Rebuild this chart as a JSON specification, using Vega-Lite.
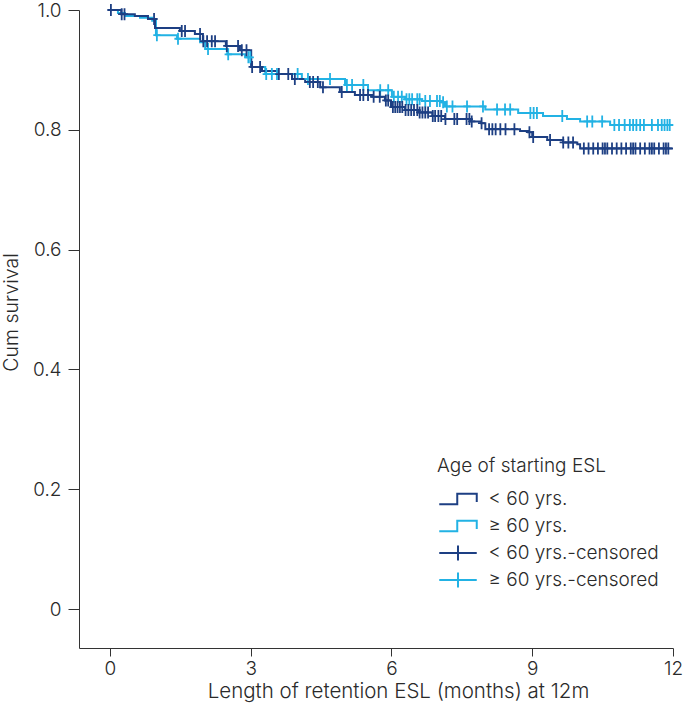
{
  "$schema": "https://vega.github.io/schema/vega-lite/v6.json",
  "width": 594,
  "height": 638,
  "autosize": "none",
  "padding": {"left": 79, "top": 10, "right": 12, "bottom": 58},
  "config": {
    "view": {"stroke": null},
    "font": "Inter",
    "axis": {
      "grid": false,
      "domainColor": "#333333",
      "tickColor": "#333333",
      "labelColor": "#2a2a2a",
      "titleColor": "#2a2a2a",
      "labelFont": "Inter",
      "titleFont": "Inter",
      "labelFontWeight": 300,
      "titleFontWeight": 300,
      "labelFontSize": 19,
      "titleFontSize": 20,
      "labelFlush": false
    },
    "legend": {
      "labelFont": "Inter",
      "titleFont": "Inter",
      "labelFontWeight": 300,
      "titleFontWeight": 300,
      "labelFontSize": 19,
      "titleFontSize": 19,
      "labelColor": "#2a2a2a",
      "titleColor": "#2a2a2a",
      "labelLimit": 0
    }
  },
  "datasets": {
    "curves": [
      {"grp": "≥ 60 yrs.", "t": 0, "s": 1.0},
      {"grp": "≥ 60 yrs.", "t": 0.17, "s": 0.995},
      {"grp": "≥ 60 yrs.", "t": 0.32, "s": 0.99},
      {"grp": "≥ 60 yrs.", "t": 0.64, "s": 0.987},
      {"grp": "≥ 60 yrs.", "t": 0.9, "s": 0.982},
      {"grp": "≥ 60 yrs.", "t": 0.98, "s": 0.958},
      {"grp": "≥ 60 yrs.", "t": 1.43, "s": 0.952},
      {"grp": "≥ 60 yrs.", "t": 1.92, "s": 0.946},
      {"grp": "≥ 60 yrs.", "t": 2.03, "s": 0.935},
      {"grp": "≥ 60 yrs.", "t": 2.5, "s": 0.926},
      {"grp": "≥ 60 yrs.", "t": 2.88, "s": 0.921},
      {"grp": "≥ 60 yrs.", "t": 3.01, "s": 0.905},
      {"grp": "≥ 60 yrs.", "t": 3.31, "s": 0.893},
      {"grp": "≥ 60 yrs.", "t": 4.09, "s": 0.885},
      {"grp": "≥ 60 yrs.", "t": 5.01, "s": 0.875},
      {"grp": "≥ 60 yrs.", "t": 5.5, "s": 0.866},
      {"grp": "≥ 60 yrs.", "t": 6.01, "s": 0.855},
      {"grp": "≥ 60 yrs.", "t": 6.29, "s": 0.851},
      {"grp": "≥ 60 yrs.", "t": 6.65, "s": 0.848},
      {"grp": "≥ 60 yrs.", "t": 7.08, "s": 0.846},
      {"grp": "≥ 60 yrs.", "t": 7.14, "s": 0.839},
      {"grp": "≥ 60 yrs.", "t": 8.0, "s": 0.834},
      {"grp": "≥ 60 yrs.", "t": 8.7, "s": 0.828},
      {"grp": "≥ 60 yrs.", "t": 9.23, "s": 0.823},
      {"grp": "≥ 60 yrs.", "t": 9.74, "s": 0.818},
      {"grp": "≥ 60 yrs.", "t": 10.02, "s": 0.814},
      {"grp": "≥ 60 yrs.", "t": 10.66, "s": 0.808},
      {"grp": "≥ 60 yrs.", "t": 12.0, "s": 0.808},
      {"grp": "< 60 yrs.", "t": 0, "s": 1.0},
      {"grp": "< 60 yrs.", "t": 0.24, "s": 0.993},
      {"grp": "< 60 yrs.", "t": 0.53, "s": 0.99},
      {"grp": "< 60 yrs.", "t": 0.81, "s": 0.985},
      {"grp": "< 60 yrs.", "t": 0.96, "s": 0.97},
      {"grp": "< 60 yrs.", "t": 1.49, "s": 0.965},
      {"grp": "< 60 yrs.", "t": 1.81, "s": 0.96},
      {"grp": "< 60 yrs.", "t": 1.98, "s": 0.948},
      {"grp": "< 60 yrs.", "t": 2.47, "s": 0.94},
      {"grp": "< 60 yrs.", "t": 2.77, "s": 0.933},
      {"grp": "< 60 yrs.", "t": 3.01, "s": 0.905},
      {"grp": "< 60 yrs.", "t": 3.24, "s": 0.898},
      {"grp": "< 60 yrs.", "t": 3.58, "s": 0.893},
      {"grp": "< 60 yrs.", "t": 3.88, "s": 0.885},
      {"grp": "< 60 yrs.", "t": 4.16, "s": 0.88},
      {"grp": "< 60 yrs.", "t": 4.48, "s": 0.871},
      {"grp": "< 60 yrs.", "t": 4.9, "s": 0.863},
      {"grp": "< 60 yrs.", "t": 5.22, "s": 0.858},
      {"grp": "< 60 yrs.", "t": 5.59, "s": 0.855},
      {"grp": "< 60 yrs.", "t": 5.86, "s": 0.849},
      {"grp": "< 60 yrs.", "t": 5.99, "s": 0.838},
      {"grp": "< 60 yrs.", "t": 6.29, "s": 0.833},
      {"grp": "< 60 yrs.", "t": 6.57, "s": 0.829},
      {"grp": "< 60 yrs.", "t": 6.87, "s": 0.823},
      {"grp": "< 60 yrs.", "t": 7.14, "s": 0.818},
      {"grp": "< 60 yrs.", "t": 7.68, "s": 0.814},
      {"grp": "< 60 yrs.", "t": 7.91, "s": 0.811},
      {"grp": "< 60 yrs.", "t": 8.0, "s": 0.801},
      {"grp": "< 60 yrs.", "t": 8.74, "s": 0.798},
      {"grp": "< 60 yrs.", "t": 8.91, "s": 0.796},
      {"grp": "< 60 yrs.", "t": 9.0, "s": 0.788},
      {"grp": "< 60 yrs.", "t": 9.32, "s": 0.783},
      {"grp": "< 60 yrs.", "t": 9.66, "s": 0.779},
      {"grp": "< 60 yrs.", "t": 9.96, "s": 0.776},
      {"grp": "< 60 yrs.", "t": 10.02, "s": 0.769},
      {"grp": "< 60 yrs.", "t": 12.0, "s": 0.769}
    ],
    "censored": [
      {"grp": "≥ 60 yrs.-censored", "t": 1.0, "s": 0.958},
      {"grp": "≥ 60 yrs.-censored", "t": 1.45, "s": 0.952},
      {"grp": "≥ 60 yrs.-censored", "t": 2.09, "s": 0.935},
      {"grp": "≥ 60 yrs.-censored", "t": 2.52, "s": 0.926},
      {"grp": "≥ 60 yrs.-censored", "t": 2.95, "s": 0.921},
      {"grp": "≥ 60 yrs.-censored", "t": 2.99, "s": 0.921},
      {"grp": "≥ 60 yrs.-censored", "t": 3.33, "s": 0.893},
      {"grp": "≥ 60 yrs.-censored", "t": 3.45, "s": 0.893},
      {"grp": "≥ 60 yrs.-censored", "t": 3.56, "s": 0.893},
      {"grp": "≥ 60 yrs.-censored", "t": 4.0, "s": 0.893},
      {"grp": "≥ 60 yrs.-censored", "t": 4.22, "s": 0.885},
      {"grp": "≥ 60 yrs.-censored", "t": 4.69, "s": 0.885},
      {"grp": "≥ 60 yrs.-censored", "t": 5.05, "s": 0.875},
      {"grp": "≥ 60 yrs.-censored", "t": 5.16, "s": 0.875},
      {"grp": "≥ 60 yrs.-censored", "t": 5.4, "s": 0.875},
      {"grp": "≥ 60 yrs.-censored", "t": 5.76, "s": 0.866},
      {"grp": "≥ 60 yrs.-censored", "t": 5.93, "s": 0.866},
      {"grp": "≥ 60 yrs.-censored", "t": 6.05, "s": 0.855},
      {"grp": "≥ 60 yrs.-censored", "t": 6.14, "s": 0.855},
      {"grp": "≥ 60 yrs.-censored", "t": 6.22, "s": 0.855},
      {"grp": "≥ 60 yrs.-censored", "t": 6.32, "s": 0.851},
      {"grp": "≥ 60 yrs.-censored", "t": 6.38, "s": 0.851},
      {"grp": "≥ 60 yrs.-censored", "t": 6.44, "s": 0.851},
      {"grp": "≥ 60 yrs.-censored", "t": 6.55, "s": 0.851},
      {"grp": "≥ 60 yrs.-censored", "t": 6.6, "s": 0.851},
      {"grp": "≥ 60 yrs.-censored", "t": 6.72, "s": 0.848},
      {"grp": "≥ 60 yrs.-censored", "t": 6.82, "s": 0.848},
      {"grp": "≥ 60 yrs.-censored", "t": 6.97, "s": 0.848},
      {"grp": "≥ 60 yrs.-censored", "t": 7.03, "s": 0.848},
      {"grp": "≥ 60 yrs.-censored", "t": 7.1, "s": 0.846},
      {"grp": "≥ 60 yrs.-censored", "t": 7.18, "s": 0.839},
      {"grp": "≥ 60 yrs.-censored", "t": 7.3, "s": 0.839},
      {"grp": "≥ 60 yrs.-censored", "t": 7.61, "s": 0.839},
      {"grp": "≥ 60 yrs.-censored", "t": 7.95, "s": 0.839},
      {"grp": "≥ 60 yrs.-censored", "t": 8.25, "s": 0.834},
      {"grp": "≥ 60 yrs.-censored", "t": 8.42, "s": 0.834},
      {"grp": "≥ 60 yrs.-censored", "t": 8.53, "s": 0.834},
      {"grp": "≥ 60 yrs.-censored", "t": 8.96, "s": 0.828},
      {"grp": "≥ 60 yrs.-censored", "t": 9.03, "s": 0.828},
      {"grp": "≥ 60 yrs.-censored", "t": 9.1, "s": 0.828},
      {"grp": "≥ 60 yrs.-censored", "t": 9.64, "s": 0.823},
      {"grp": "≥ 60 yrs.-censored", "t": 10.17, "s": 0.814},
      {"grp": "≥ 60 yrs.-censored", "t": 10.28, "s": 0.814},
      {"grp": "≥ 60 yrs.-censored", "t": 10.49, "s": 0.814},
      {"grp": "≥ 60 yrs.-censored", "t": 10.75, "s": 0.808},
      {"grp": "≥ 60 yrs.-censored", "t": 10.85, "s": 0.808},
      {"grp": "≥ 60 yrs.-censored", "t": 10.97, "s": 0.808},
      {"grp": "≥ 60 yrs.-censored", "t": 11.08, "s": 0.808},
      {"grp": "≥ 60 yrs.-censored", "t": 11.15, "s": 0.808},
      {"grp": "≥ 60 yrs.-censored", "t": 11.22, "s": 0.808},
      {"grp": "≥ 60 yrs.-censored", "t": 11.3, "s": 0.808},
      {"grp": "≥ 60 yrs.-censored", "t": 11.38, "s": 0.808},
      {"grp": "≥ 60 yrs.-censored", "t": 11.55, "s": 0.808},
      {"grp": "≥ 60 yrs.-censored", "t": 11.68, "s": 0.808},
      {"grp": "≥ 60 yrs.-censored", "t": 11.76, "s": 0.808},
      {"grp": "≥ 60 yrs.-censored", "t": 11.82, "s": 0.808},
      {"grp": "≥ 60 yrs.-censored", "t": 11.88, "s": 0.808},
      {"grp": "≥ 60 yrs.-censored", "t": 11.93, "s": 0.808},
      {"grp": "< 60 yrs.-censored", "t": 0.02, "s": 1.0},
      {"grp": "< 60 yrs.-censored", "t": 0.25, "s": 0.993},
      {"grp": "< 60 yrs.-censored", "t": 0.31, "s": 0.993},
      {"grp": "< 60 yrs.-censored", "t": 0.94, "s": 0.985},
      {"grp": "< 60 yrs.-censored", "t": 1.53, "s": 0.965},
      {"grp": "< 60 yrs.-censored", "t": 1.6, "s": 0.965},
      {"grp": "< 60 yrs.-censored", "t": 1.92, "s": 0.96},
      {"grp": "< 60 yrs.-censored", "t": 1.99, "s": 0.948},
      {"grp": "< 60 yrs.-censored", "t": 2.07, "s": 0.948},
      {"grp": "< 60 yrs.-censored", "t": 2.17, "s": 0.948},
      {"grp": "< 60 yrs.-censored", "t": 2.24, "s": 0.948},
      {"grp": "< 60 yrs.-censored", "t": 2.49, "s": 0.94},
      {"grp": "< 60 yrs.-censored", "t": 2.73, "s": 0.94},
      {"grp": "< 60 yrs.-censored", "t": 2.81, "s": 0.933},
      {"grp": "< 60 yrs.-censored", "t": 2.91, "s": 0.933},
      {"grp": "< 60 yrs.-censored", "t": 3.03, "s": 0.905},
      {"grp": "< 60 yrs.-censored", "t": 3.2, "s": 0.905},
      {"grp": "< 60 yrs.-censored", "t": 3.6, "s": 0.893},
      {"grp": "< 60 yrs.-censored", "t": 3.8, "s": 0.893},
      {"grp": "< 60 yrs.-censored", "t": 3.94, "s": 0.885},
      {"grp": "< 60 yrs.-censored", "t": 4.26, "s": 0.88},
      {"grp": "< 60 yrs.-censored", "t": 4.33, "s": 0.88},
      {"grp": "< 60 yrs.-censored", "t": 4.43, "s": 0.88},
      {"grp": "< 60 yrs.-censored", "t": 4.54, "s": 0.871},
      {"grp": "< 60 yrs.-censored", "t": 4.94, "s": 0.863},
      {"grp": "< 60 yrs.-censored", "t": 5.33, "s": 0.858},
      {"grp": "< 60 yrs.-censored", "t": 5.4, "s": 0.858},
      {"grp": "< 60 yrs.-censored", "t": 5.5, "s": 0.858},
      {"grp": "< 60 yrs.-censored", "t": 5.62, "s": 0.855},
      {"grp": "< 60 yrs.-censored", "t": 5.75, "s": 0.855},
      {"grp": "< 60 yrs.-censored", "t": 5.88, "s": 0.849},
      {"grp": "< 60 yrs.-censored", "t": 5.93, "s": 0.849},
      {"grp": "< 60 yrs.-censored", "t": 6.03, "s": 0.838},
      {"grp": "< 60 yrs.-censored", "t": 6.08, "s": 0.838},
      {"grp": "< 60 yrs.-censored", "t": 6.13, "s": 0.838},
      {"grp": "< 60 yrs.-censored", "t": 6.18, "s": 0.838},
      {"grp": "< 60 yrs.-censored", "t": 6.23, "s": 0.838},
      {"grp": "< 60 yrs.-censored", "t": 6.3, "s": 0.833},
      {"grp": "< 60 yrs.-censored", "t": 6.36, "s": 0.833},
      {"grp": "< 60 yrs.-censored", "t": 6.42, "s": 0.833},
      {"grp": "< 60 yrs.-censored", "t": 6.48, "s": 0.833},
      {"grp": "< 60 yrs.-censored", "t": 6.55, "s": 0.833},
      {"grp": "< 60 yrs.-censored", "t": 6.6, "s": 0.829},
      {"grp": "< 60 yrs.-censored", "t": 6.66, "s": 0.829},
      {"grp": "< 60 yrs.-censored", "t": 6.72, "s": 0.829},
      {"grp": "< 60 yrs.-censored", "t": 6.78, "s": 0.829},
      {"grp": "< 60 yrs.-censored", "t": 6.88, "s": 0.823},
      {"grp": "< 60 yrs.-censored", "t": 6.93, "s": 0.823},
      {"grp": "< 60 yrs.-censored", "t": 7.0, "s": 0.823},
      {"grp": "< 60 yrs.-censored", "t": 7.06, "s": 0.823},
      {"grp": "< 60 yrs.-censored", "t": 7.15, "s": 0.818},
      {"grp": "< 60 yrs.-censored", "t": 7.34, "s": 0.818},
      {"grp": "< 60 yrs.-censored", "t": 7.4, "s": 0.818},
      {"grp": "< 60 yrs.-censored", "t": 7.6, "s": 0.818},
      {"grp": "< 60 yrs.-censored", "t": 7.66, "s": 0.818},
      {"grp": "< 60 yrs.-censored", "t": 7.71, "s": 0.814},
      {"grp": "< 60 yrs.-censored", "t": 7.92, "s": 0.811},
      {"grp": "< 60 yrs.-censored", "t": 8.08, "s": 0.801},
      {"grp": "< 60 yrs.-censored", "t": 8.15, "s": 0.801},
      {"grp": "< 60 yrs.-censored", "t": 8.22, "s": 0.801},
      {"grp": "< 60 yrs.-censored", "t": 8.32, "s": 0.801},
      {"grp": "< 60 yrs.-censored", "t": 8.43, "s": 0.801},
      {"grp": "< 60 yrs.-censored", "t": 8.62, "s": 0.801},
      {"grp": "< 60 yrs.-censored", "t": 8.94, "s": 0.796},
      {"grp": "< 60 yrs.-censored", "t": 9.02, "s": 0.788},
      {"grp": "< 60 yrs.-censored", "t": 9.38, "s": 0.783},
      {"grp": "< 60 yrs.-censored", "t": 9.66, "s": 0.779},
      {"grp": "< 60 yrs.-censored", "t": 9.77, "s": 0.779},
      {"grp": "< 60 yrs.-censored", "t": 9.87, "s": 0.779},
      {"grp": "< 60 yrs.-censored", "t": 10.1, "s": 0.769},
      {"grp": "< 60 yrs.-censored", "t": 10.2, "s": 0.769},
      {"grp": "< 60 yrs.-censored", "t": 10.3, "s": 0.769},
      {"grp": "< 60 yrs.-censored", "t": 10.4, "s": 0.769},
      {"grp": "< 60 yrs.-censored", "t": 10.5, "s": 0.769},
      {"grp": "< 60 yrs.-censored", "t": 10.55, "s": 0.769},
      {"grp": "< 60 yrs.-censored", "t": 10.6, "s": 0.769},
      {"grp": "< 60 yrs.-censored", "t": 10.7, "s": 0.769},
      {"grp": "< 60 yrs.-censored", "t": 10.8, "s": 0.769},
      {"grp": "< 60 yrs.-censored", "t": 10.9, "s": 0.769},
      {"grp": "< 60 yrs.-censored", "t": 11.0, "s": 0.769},
      {"grp": "< 60 yrs.-censored", "t": 11.1, "s": 0.769},
      {"grp": "< 60 yrs.-censored", "t": 11.15, "s": 0.769},
      {"grp": "< 60 yrs.-censored", "t": 11.2, "s": 0.769},
      {"grp": "< 60 yrs.-censored", "t": 11.3, "s": 0.769},
      {"grp": "< 60 yrs.-censored", "t": 11.4, "s": 0.769},
      {"grp": "< 60 yrs.-censored", "t": 11.5, "s": 0.769},
      {"grp": "< 60 yrs.-censored", "t": 11.55, "s": 0.769},
      {"grp": "< 60 yrs.-censored", "t": 11.6, "s": 0.769},
      {"grp": "< 60 yrs.-censored", "t": 11.7, "s": 0.769},
      {"grp": "< 60 yrs.-censored", "t": 11.8, "s": 0.769},
      {"grp": "< 60 yrs.-censored", "t": 11.85, "s": 0.769},
      {"grp": "< 60 yrs.-censored", "t": 11.9, "s": 0.769}
    ]
  },
  "encoding": {
    "x": {
      "field": "t",
      "type": "quantitative",
      "scale": {"domain": [-0.66, 12], "nice": false, "zero": false},
      "axis": {
        "values": [0, 3, 6, 9, 12],
        "title": "Length of retention ESL (months) at 12m",
        "tickSize": 8,
        "labelPadding": 3,
        "titlePadding": 3,
        "titleFontSize": 20.5,
        "titleX": 319,
        "titleAnchor": null
      }
    },
    "y": {
      "field": "s",
      "type": "quantitative",
      "scale": {"domain": [-0.065, 1.0], "nice": false, "zero": false},
      "axis": {
        "values": [0, 0.2, 0.4, 0.6, 0.8, 1.0],
        "labelExpr": "datum.value == 0 ? '0' : format(datum.value, '.1f')",
        "title": "Cum survival",
        "tickSize": 11,
        "labelPadding": 7,
        "titleFontSize": 19.5,
        "titleX": -58,
        "titleY": 302,
        "titleAnchor": null
      }
    },
    "color": {
      "field": "grp",
      "type": "nominal",
      "scale": {
        "domain": ["< 60 yrs.", "≥ 60 yrs.", "< 60 yrs.-censored", "≥ 60 yrs.-censored"],
        "range": ["#1d3f83", "#22b2e4", "#1d3f83", "#22b2e4"]
      },
      "legend": {
        "title": "Age of starting ESL",
        "orient": "none",
        "legendX": 358,
        "legendY": 447,
        "symbolSize": 225,
        "symbolOffset": 11.5,
        "labelOffset": 21,
        "labelLimit": 0,
        "clipHeight": 20,
        "rowPadding": 7,
        "titlePadding": 13,
        "symbolStrokeWidth": 2,
        "encode": {
          "symbols": {
            "update": {
              "shape": {"signal": "indexof(datum.value, 'censored') >= 0 ? 'M-2.5,0H2.5M0,-1V1' : 'M-2.5,0.7H-0.1V-0.7H2.5V0.4'"},
              "fill": {"value": "transparent"},
              "strokeWidth": {"value": 2}
            }
          }
        }
      }
    }
  },
  "layer": [
    {
      "data": {"name": "curves"},
      "mark": {"type": "line", "interpolate": "step-after", "strokeWidth": 2}
    },
    {
      "data": {"name": "censored"},
      "mark": {"type": "point", "shape": "M-0.6,0H0.6M0,-1V1", "size": 144, "filled": false, "strokeWidth": 1.8, "opacity": 1}
    }
  ]
}
